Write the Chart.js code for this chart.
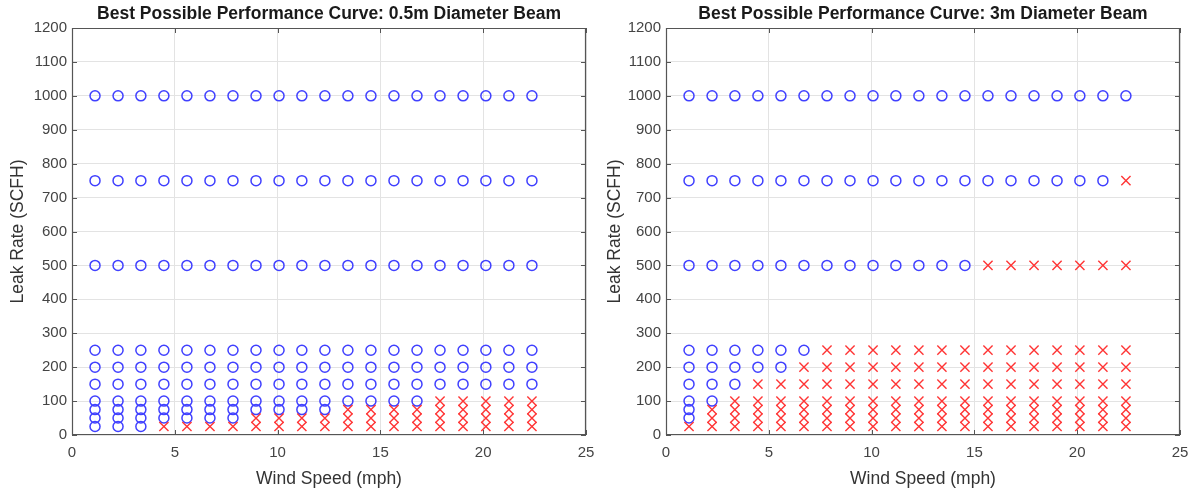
<!DOCTYPE html>
<html>
<head>
<meta charset="utf-8">
<script src="https://cdn.jsdelivr.net/npm/chart.js@4/dist/chart.umd.min.js"></script>
<style>
  html, body { margin: 0; padding: 0; background: #ffffff; }
  #wrap { position: relative; width: 1194px; height: 491px; overflow: hidden; }
  canvas { position: absolute; top: 0; }
</style>
</head>
<body>
<div id="wrap">
  <canvas id="c1" width="597" height="491" style="left:0px"></canvas>
  <canvas id="c2" width="597" height="491" style="left:597px"></canvas>
</div>
<script>
// ---- Data ----
const windSpeedMph = [1.12, 2.24, 3.35, 4.47, 5.59, 6.71, 7.83, 8.95, 10.07, 11.18,
                      12.30, 13.42, 14.54, 15.66, 16.78, 17.90, 19.02, 20.13, 21.25, 22.37];
const leakRatesScfh = [25, 50, 75, 100, 150, 200, 250, 500, 750, 1000];
// number of (lowest) wind speeds at which each leak rate is detected (circles); remaining are misses (crosses)
const detectedCountBeam05m = [3, 7, 11, 15, 20, 20, 20, 20, 20, 20];
const detectedCountBeam3m  = [0, 1, 1, 2, 3, 5, 6, 13, 19, 20];
const xTickValues = [0, 5, 10, 15, 20, 25];
const yTickValues = [0, 100, 200, 300, 400, 500, 600, 700, 800, 900, 1000, 1100, 1200];
const titles = ['Best Possible Performance Curve: 0.5m Diameter Beam',
                'Best Possible Performance Curve: 3m Diameter Beam'];
const xAxisTitle = 'Wind Speed (mph)';
const yAxisTitle = 'Leak Rate (SCFH)';

// ---- Styling ----
const FONT = '"Liberation Sans", Arial, Helvetica, sans-serif';
const BLUE = '#4040ff';
const RED = '#ff3535';
const GRID = '#e3e3e3';
const AXIS = '#555555';
const TEXT = '#444444';

function buildPoints(detected) {
  const hit = [], miss = [];
  leakRatesScfh.forEach((rate, i) => {
    windSpeedMph.forEach((ws, j) => {
      if (j < detected[i]) hit.push({x: ws, y: rate});
      else miss.push({x: ws, y: rate});
    });
  });
  return {hit, miss};
}

const framePlugin = {
  id: 'frame',
  afterDatasetsDraw(chart) {
    const {ctx, chartArea: {left, right, top, bottom}, scales: {x, y}} = chart;
    ctx.save();
    ctx.strokeStyle = AXIS;
    ctx.lineWidth = 1.2;
    ctx.beginPath();
    ctx.rect(Math.round(left) + 0.5, Math.round(top) + 0.5,
             Math.round(right - left) - 1, Math.round(bottom - top) - 1);
    ctx.stroke();
    ctx.lineWidth = 1;
    ctx.beginPath();
    xTickValues.forEach(v => {
      const px = Math.round(x.getPixelForValue(v)) + 0.5;
      ctx.moveTo(px, bottom); ctx.lineTo(px, bottom - 5);
      ctx.moveTo(px, top); ctx.lineTo(px, top + 5);
    });
    yTickValues.forEach(v => {
      const py = Math.round(y.getPixelForValue(v)) + 0.5;
      ctx.moveTo(left, py); ctx.lineTo(left + 5, py);
      ctx.moveTo(right, py); ctx.lineTo(right - 5, py);
    });
    ctx.stroke();
    ctx.restore();
  }
};

function makeChart(id, title, detected, yAxisWidth, padRight) {
  const pts = buildPoints(detected);
  return new Chart(document.getElementById(id), {
    type: 'scatter',
    data: {
      datasets: [
        {
          label: 'Missed',
          data: pts.miss,
          pointStyle: 'crossRot',
          pointRadius: 6.5,
          pointHoverRadius: 6.5,
          borderColor: RED,
          backgroundColor: RED,
          pointBorderWidth: 1.4
        },
        {
          label: 'Detected',
          data: pts.hit,
          pointStyle: 'circle',
          pointRadius: 5,
          pointHoverRadius: 5,
          borderColor: BLUE,
          backgroundColor: 'rgba(0,0,0,0)',
          pointBorderWidth: 1.5
        }
      ]
    },
    options: {
      responsive: false,
      animation: false,
      events: [],
      layout: { padding: { left: 0, right: padRight, top: 0, bottom: 0 } },
      plugins: {
        legend: { display: false },
        tooltip: { enabled: false },
        title: {
          display: true,
          text: title,
          fullSize: false,
          color: '#1a1a1a',
          font: { family: FONT, size: 17.5, weight: 'bold', lineHeight: 1.2 },
          padding: { top: 3.5, bottom: 3.5 }
        }
      },
      scales: {
        x: {
          type: 'linear',
          min: 0, max: 25,
          afterBuildTicks: (s) => { s.ticks = xTickValues.map(v => ({value: v})); },
          afterFit: (s) => { s.height = 56; s.paddingLeft = 0; s.paddingRight = 0; },
          grid: { color: GRID, drawTicks: false, lineWidth: 1 },
          border: { display: false },
          ticks: { color: TEXT, font: { family: FONT, size: 15 }, padding: 9, maxRotation: 0,
                   callback: (v) => String(v) },
          title: {
            display: true, text: xAxisTitle, color: '#333333',
            font: { family: FONT, size: 17.5 }, padding: { top: 0, bottom: 1 }
          }
        },
        y: {
          type: 'linear',
          min: 0, max: 1200,
          afterBuildTicks: (s) => { s.ticks = yTickValues.map(v => ({value: v})); },
          afterFit: (s) => { s.width = yAxisWidth; s.paddingTop = 0; s.paddingBottom = 0; },
          grid: { color: GRID, drawTicks: false, lineWidth: 1 },
          border: { display: false },
          ticks: { color: TEXT, font: { family: FONT, size: 15 }, padding: 5,
                   callback: (v) => String(v) },
          title: {
            display: true, text: yAxisTitle, color: '#333333',
            font: { family: FONT, size: 17.5 }, padding: { top: 8, bottom: 0 }
          }
        }
      }
    },
    plugins: [framePlugin]
  });
}

makeChart('c1', titles[0], detectedCountBeam05m, 72, 11);
makeChart('c2', titles[1], detectedCountBeam3m, 69, 14);
</script>
</body>
</html>
